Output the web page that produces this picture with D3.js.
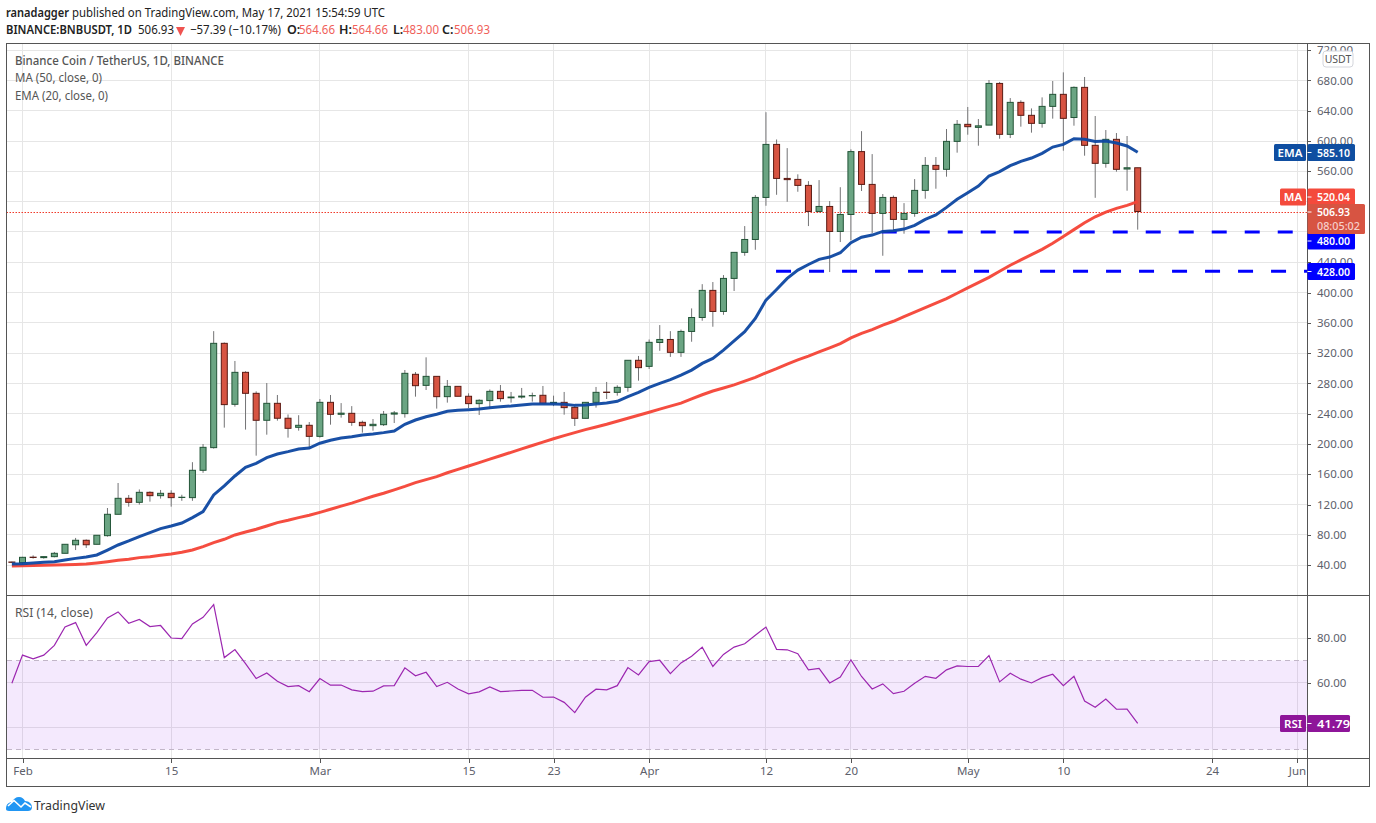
<!DOCTYPE html>
<html><head><meta charset="utf-8">
<script src="https://cdn.jsdelivr.net/npm/d3@7"></script>
<style>
html,body{margin:0;padding:0;background:#fff;overflow:hidden}
svg{display:block}
text{font-family:"Noto Sans","Open Sans",sans-serif}
</style></head><body>
<svg id="c" width="1376" height="823"></svg>
<script>
// day offsets are counted from 1 Feb 2021; first candle is 31 Jan 2021
const firstDay = -1;
const open = [44.2,43.4,50.6,50,51.3,55.7,67,72.9,67.6,79,107.2,128.3,123,136.2,131.8,134.9,129.4,129.2,165.3,195.2,332.9,252.4,294.6,266.9,231.3,253.7,234,222,224.7,210.1,255,239.2,240.5,228.6,224.2,225.5,239.5,240.1,292,277.4,289.3,262.5,276.1,263,253.3,257.3,269.5,261,262,263.6,264.3,254,255,248.4,233.9,255,268.5,268.2,274.8,310.5,302.5,334,338,321,348.6,367,402.8,375,418.6,453,470,525.5,595.5,550.6,549.3,541.4,507,513.6,480.6,503,586,542.7,504.4,525.5,496.5,504.4,534.8,567.8,562.6,599.5,622,618,621,676,608.8,651,633.9,623.3,645.7,661.6,631,670.8,594.3,570.5,602.2,563,564.66];
const high = [44.6,51,53,51.5,57.5,67.6,76,74,79.5,115.5,148.5,132.7,140,137.5,139.3,138.9,133,176,200,349,334,309.6,296,269.5,280.5,264.7,239,238,229,259.4,264.7,254,250,230.8,233,243.6,243.6,297.7,295,314.4,289.3,284.5,276.1,266.9,259,272,277.9,268.7,274,267.8,276.6,263.8,268.7,250.6,255,275.3,281.9,277.5,310.5,316.2,338,357,349,351,379,411,413.8,423,453,487.7,528.6,638,602,590.6,556,547,548.4,520.7,539,589,613,582.7,530,528,518,549.7,578.8,578.8,615.8,627.7,644.9,629,680.5,678,656.7,653.7,643,657.6,679.2,690.6,672,684.5,633,614.5,610.5,606.6,564.66];
const low = [43,41,48.7,48.7,50.4,55.7,60,62.8,67.6,77.7,107.2,117.3,120,123.9,127.9,117.3,125,125,162,193.9,221.6,249.3,219,184.6,212.3,230.8,208.4,217.6,193.4,208.4,225.5,234.8,224,215,217.6,223.8,227.7,234.8,262.5,271.3,246.7,254.6,263,247.5,238.3,246.7,255.9,254.6,259.9,255.9,252.8,250,238.7,223.8,233.9,248,259.4,263.8,269,283.6,299,323,315,315,335,362.7,354.8,370.6,402,448.5,456.4,514.5,529,519.8,533,487.7,505.7,427,466.6,469,534,478,448.5,481,477.6,500,523.8,537,552.9,584.6,608.3,593.8,621,603,603.9,618.9,611,617.6,629.5,587.2,620.2,580.6,525,564.8,559.5,534.4,483];
const close = [43.8,50.4,50.2,51.3,55.7,67.6,72.9,67,79.5,107.2,128.3,123,136.2,131.8,134.9,129.2,129.7,165.3,195.6,332.9,252,294.6,266.9,231.3,253.7,234,220.7,224.7,210.1,255,239.2,240.7,228.6,224.2,226,239.2,241,293.3,277,289.3,262.5,276.1,263,253.3,257.7,269.5,259.9,262,263.2,263.9,253.7,255,248,233.9,255,268.2,268,274.8,310.5,300.8,334.2,338,321,348.6,367,402.8,375,418.6,453,470,525.5,595.5,550.6,549,541.4,507,513.6,480.6,503,586,542.7,504.4,525.5,496.5,504.4,534.8,567.8,562.6,599.5,622,618.9,620,676,608.8,651,633.9,623.3,645.7,661.6,629.9,670.8,594.3,570.5,602.2,562.6,564.66,506.93];
const ema = [41.6,42,43,43.8,44.7,46.9,49,50.9,53.5,60,66.7,72,77.7,83,88.3,91.8,95.7,102.8,110.7,132.7,144.6,157.8,169.2,174.5,182,186.8,189.9,193.4,194.7,201,205,208,209.7,211.9,213.2,215,217.2,226,231.7,236,239.2,243.1,244.5,245.3,246.2,248,249.3,250.2,251.5,252.8,252.8,252.8,252.4,251,251.5,252.8,254,256.3,262.5,268.2,274.8,280.1,285,291,297.6,306.4,313,324,336.3,348.2,365.8,390,404,418.6,429.6,437,443.7,446.8,452.5,465.7,473,475.8,480.6,481.5,483.7,488.6,496.5,502.3,512.4,523,531.8,540.6,553.8,559.5,567.4,573.1,577.5,583.7,592,595.6,603,602.2,599.5,600,597.3,593.4,585.1];
const ma = [39,39.2,39.5,39.8,40.2,40.6,41,41.5,43,44.7,46.5,47.8,50,51.3,53,54.8,57,60,64.5,69.8,74.2,79.9,83.9,87.4,91.8,96.2,99.3,102.8,105.9,109.8,113.8,118,122,126.5,131,135,139.5,144,149,153,157,162,166.5,171,175.5,180,184.5,189,193.5,198,202.5,207,211,215,219,222.5,226,230,234,238,242,246,250,254,259.5,265,270,274,278,283,288,294,299.5,305.5,311,316,321.5,327,332.5,340,346,351,357,362,368,374,380,386,392,399,406,413,420,428,436,443,450,457,465,474,483,492,500,506,511,515,520.04];
const rsi = [59.8,72.4,70.7,72.4,76.8,85,87,76.8,82.5,89.1,91.8,86.7,88.4,85.2,85.7,80.1,79.8,86.4,89.4,95.1,71.3,74.9,68.6,61.9,64.4,60.7,58.3,58.7,56,61.9,58.9,59,56.8,56,56.2,58.6,58.7,66.7,63.1,64.7,58.3,60.2,57.2,55,55.9,58.1,56,56.3,56.6,56.6,53.5,53.6,51.2,46.6,53.5,57.1,56.8,58.7,66.8,63.5,69.5,70.1,64.1,68.9,71.9,76,67.3,72.7,76,77.5,81.3,85,75,74.8,73,65.8,66.4,59.9,62.6,70.3,62.8,57.2,59.5,55.1,56.2,59.8,62.9,62,65.8,67.6,67.3,67.3,72.2,60.4,64.3,61.6,59.9,62.3,63.8,58.7,62.9,51.8,49,52.7,48.1,48.2,41.79];
const priceTicks = [40,80,120,160,200,240,280,320,360,400,440,480,520,560,600,640,680,720];
const hiddenPriceLabels = [480,520];
const rsiTicks = [40,60,80];
const hiddenRsiLabels = [40];
const rsiGuides = [30,70];
const dayTicks = [0,14,28,42,50,59,70,78,89,98,112,120];
const dayLabels = ["Feb","15","Mar","15","23","Apr","12","20","May","10","24","Jun"];
const levels = [{v:480,from:80.9,label:"480.00"},{v:428,from:70.95,label:"428.00"}];
const lastClose = 506.93, lastEma = 585.10, lastMa = 520.04, lastRsi = 41.79;

const L=6.5,R=1307,OR=1369,T=43,PB=595.5,RB=758.5,B=786;
const x=d3.scaleLinear().domain([0,120]).range([22.5,1297]);
const y=d3.scaleLinear().domain([40,680]).range([565.2,80.4]);
const yr=d3.scaleLinear().domain([40,80]).range([727.3,638.2]);
const svg=d3.select("#c");
const GRID="#e6e6e6",FRAME="#555",TXT="#5d606b";
const defs=svg.append("defs");
defs.append("clipPath").attr("id","cp").append("rect").attr("x",L).attr("y",T).attr("width",R-L).attr("height",PB-T);
defs.append("clipPath").attr("id","cr").append("rect").attr("x",L).attr("y",PB).attr("width",R-L).attr("height",RB-PB);

// header
function t(px,py,s,o={}){const e=svg.append("text").attr("x",px).attr("y",py).text(s)
 .attr("font-size",o.size||12.5).attr("fill",o.fill||"#222").attr("font-weight",o.w||400);
 if(o.anchor)e.attr("text-anchor",o.anchor); if(o.len)e.attr("textLength",o.len).attr("lengthAdjust","spacingAndGlyphs"); return e;}
t(6,17,"ranadagger",{w:600,len:63});
t(72,17,"published on TradingView.com, May 17, 2021 15:54:59 UTC",{len:313});
t(6,34,"BINANCE:BNBUSDT, 1D",{w:600,len:126});
t(138,34,"506.93",{len:36});
svg.append("path").attr("d","M176 27H185L180.5 36Z").attr("fill","#ef5350");
t(190,34,"−57.39 (−10.17%)",{len:91});
const RED="#f0605a";
[[287,"O:",299],[339,"H:",352],[393,"L:",403],[442,"C:",454]].forEach((a,i)=>{
  t(a[0],34,a[1],{w:600});
  t(a[2],34,["564.66","564.66","483.00","506.93"][i],{fill:RED,len:36});
});

// grid
const grid=svg.append("g").attr("stroke",GRID).attr("stroke-width",1).attr("shape-rendering","crispEdges");
priceTicks.forEach(p=>grid.append("line").attr("x1",L).attr("x2",R).attr("y1",y(p)).attr("y2",y(p)));
dayTicks.forEach(d=>{
  grid.append("line").attr("x1",x(d)).attr("x2",x(d)).attr("y1",T).attr("y2",PB);
  grid.append("line").attr("x1",x(d)).attr("x2",x(d)).attr("y1",PB).attr("y2",RB);
});
rsiTicks.forEach(p=>grid.append("line").attr("x1",L).attr("x2",R).attr("y1",yr(p)).attr("y2",yr(p)));

// RSI band
svg.append("rect").attr("x",L).attr("width",R-L).attr("y",yr(rsiGuides[1])).attr("height",yr(rsiGuides[0])-yr(rsiGuides[1])).attr("fill","rgb(153,51,240)").attr("fill-opacity",0.11);
rsiGuides.forEach(v=>svg.append("line").attr("x1",L).attr("x2",R).attr("y1",yr(v)).attr("y2",yr(v)).attr("stroke","#c2b6c8").attr("stroke-dasharray","5 4").attr("shape-rendering","crispEdges"));

// last price dotted
const pane=svg.append("g").attr("clip-path","url(#cp)");
pane.append("line").attr("x1",L).attr("x2",R).attr("y1",212.5).attr("y2",212.5).attr("stroke","#f03a2a").attr("stroke-width",1).attr("stroke-dasharray","1.5 1.5");

// candles
const days=d3.range(open.length);
const dx=i=>x(i+firstDay);
const up=i=>close[i]>=open[i];
const g=pane.append("g");
g.selectAll(".w").data(days).join("line").attr("x1",dx).attr("x2",dx).attr("y1",i=>y(high[i])).attr("y2",i=>y(low[i])).attr("stroke","#737375").attr("stroke-width",1);
g.selectAll(".b").data(days).join("rect")
 .attr("x",i=>dx(i)-3).attr("width",6)
 .attr("y",i=>Math.min(y(open[i]),y(close[i])))
 .attr("height",i=>Math.abs(y(open[i])-y(close[i])))
 .attr("fill",i=>up(i)?"#6ba583":"#d75442")
 .attr("stroke",i=>up(i)?"#225437":"#5b1a13").attr("stroke-width",1);

// level lines
levels.forEach(l=>pane.append("line").attr("x1",x(l.from)).attr("x2",R).attr("y1",y(l.v)).attr("y2",y(l.v)).attr("stroke","#0000ff").attr("stroke-width",3).attr("stroke-dasharray","15 18"));

// MA lines
const line=a=>d3.line().x((d,i)=>dx(i)).y(d=>y(d))(a);
pane.append("path").attr("d",line(ma)).attr("fill","none").attr("stroke","#f44336").attr("stroke-width",3).attr("stroke-opacity",.95);
pane.append("path").attr("d",line(ema)).attr("fill","none").attr("stroke","#0d47a1").attr("stroke-width",3).attr("stroke-opacity",.95);

// RSI
svg.append("g").attr("clip-path","url(#cr)").append("path").attr("d",d3.line().x((d,i)=>dx(i)).y(d=>yr(d))(rsi)).attr("fill","none").attr("stroke","#9c27b0").attr("stroke-width",1.2);

// frame
const fr=svg.append("g").attr("stroke",FRAME).attr("stroke-width",1).attr("fill","none").attr("shape-rendering","crispEdges");
fr.append("rect").attr("x",L).attr("y",T).attr("width",OR-L).attr("height",B-T);
fr.append("line").attr("x1",R).attr("x2",R).attr("y1",T).attr("y2",B);
fr.append("line").attr("x1",L).attr("x2",OR).attr("y1",PB).attr("y2",PB);
fr.append("line").attr("x1",L).attr("x2",OR).attr("y1",RB).attr("y2",RB);

// axes
function styleAxis(s){s.select(".domain").remove();s.selectAll("line").attr("stroke",FRAME).attr("shape-rendering","crispEdges");
 s.selectAll("text").attr("fill",TXT).attr("font-size",11.5).attr("font-family",'"Noto Sans"');}
svg.append("g").attr("transform",`translate(${R},0)`).call(d3.axisRight(y).tickValues(priceTicks).tickSize(4).tickPadding(6).tickFormat(d=>hiddenPriceLabels.includes(d)?"":d.toFixed(2))).call(styleAxis);
svg.append("g").attr("transform",`translate(${R},0)`).call(d3.axisRight(yr).tickValues(rsiTicks).tickSize(4).tickPadding(6).tickFormat(d=>hiddenRsiLabels.includes(d)?"":d.toFixed(2))).call(styleAxis);
svg.append("g").attr("transform",`translate(0,${RB})`).call(d3.axisBottom(x).tickValues(dayTicks).tickSize(4).tickPadding(4).tickFormat((d,i)=>dayLabels[i])).call(styleAxis);

// legends
t(15,65,"Binance Coin / TetherUS, 1D, BINANCE",{fill:"#555",w:500,len:209});
t(15,82,"MA (50, close, 0)",{fill:"#555",len:87});
t(15,100,"EMA (20, close, 0)",{fill:"#555",len:93});
t(15,617,"RSI (14, close)",{fill:"#555",len:78});

// USDT button
svg.append("rect").attr("x",1323).attr("y",51).attr("width",30).attr("height",16).attr("rx",3).attr("fill","#fff").attr("stroke","#d4d6dc");
t(1338,63,"USDT",{size:10.5,fill:"#555",anchor:"middle"});

// price labels
function lab(py,h,col,name,val,vx2){
  const top=py-h/2;
  if(name){const nw=name=="EMA"?32:26;
    svg.append("rect").attr("x",1306-nw).attr("y",top).attr("width",nw).attr("height",h).attr("rx",1.5).attr("fill",col);
    t(1306-nw/2,py+4,name,{size:11.5,fill:"#fff",w:600,anchor:"middle"});}
  svg.append("rect").attr("x",1307.5).attr("y",top).attr("width",vx2-1307.5).attr("height",h).attr("rx",1.5).attr("fill",col);
  svg.append("line").attr("x1",1307.5).attr("x2",1311.5).attr("y1",py).attr("y2",py).attr("stroke","#fff");
  t(1317,py+4,val,{size:11.5,fill:"#fff",w:600,len:33});
}
lab(152.5,17,"#0f4ea1","EMA",lastEma.toFixed(2),1355);
lab(197,17,"#f44a3c","MA",lastMa.toFixed(2),1355);
lab(241,17,"#0000ff",null,levels[0].label,1355);
lab(271.5,17,"#0000ff",null,levels[1].label,1355);
// last price box
svg.append("rect").attr("x",1307.5).attr("y",204).attr("width",57.5).attr("height",30).attr("rx",1.5).attr("fill","#d75442");
svg.append("line").attr("x1",1307.5).attr("x2",1311.5).attr("y1",212).attr("y2",212).attr("stroke","#fff");
t(1317,216,lastClose.toFixed(2),{size:11.5,fill:"#fff",w:600,len:33});
t(1317,230,"08:05:02",{size:11.5,fill:"#f6cfc9",w:500,len:43});
lab(723.5,17,"#8e1599","RSI",lastRsi.toFixed(2),1350);

// logo
const lg=svg.append("g");
lg.append("path").attr("d","M6 809C6 804 9 802 12 802C13 799 16 797 19 797C22 797 24 799 25 801C29 801 32 804 32 807C32 810 30 811 28 811H9C7 811 6 810 6 809Z").attr("fill","#2196f3");
lg.append("path").attr("d","M8 806L14 800.5L21 807L25 803L31 807").attr("fill","none").attr("stroke","#fff").attr("stroke-width",1.6);
t(34,810,"TradingView",{size:13,fill:"#333",len:71});
</script>
</body></html>
